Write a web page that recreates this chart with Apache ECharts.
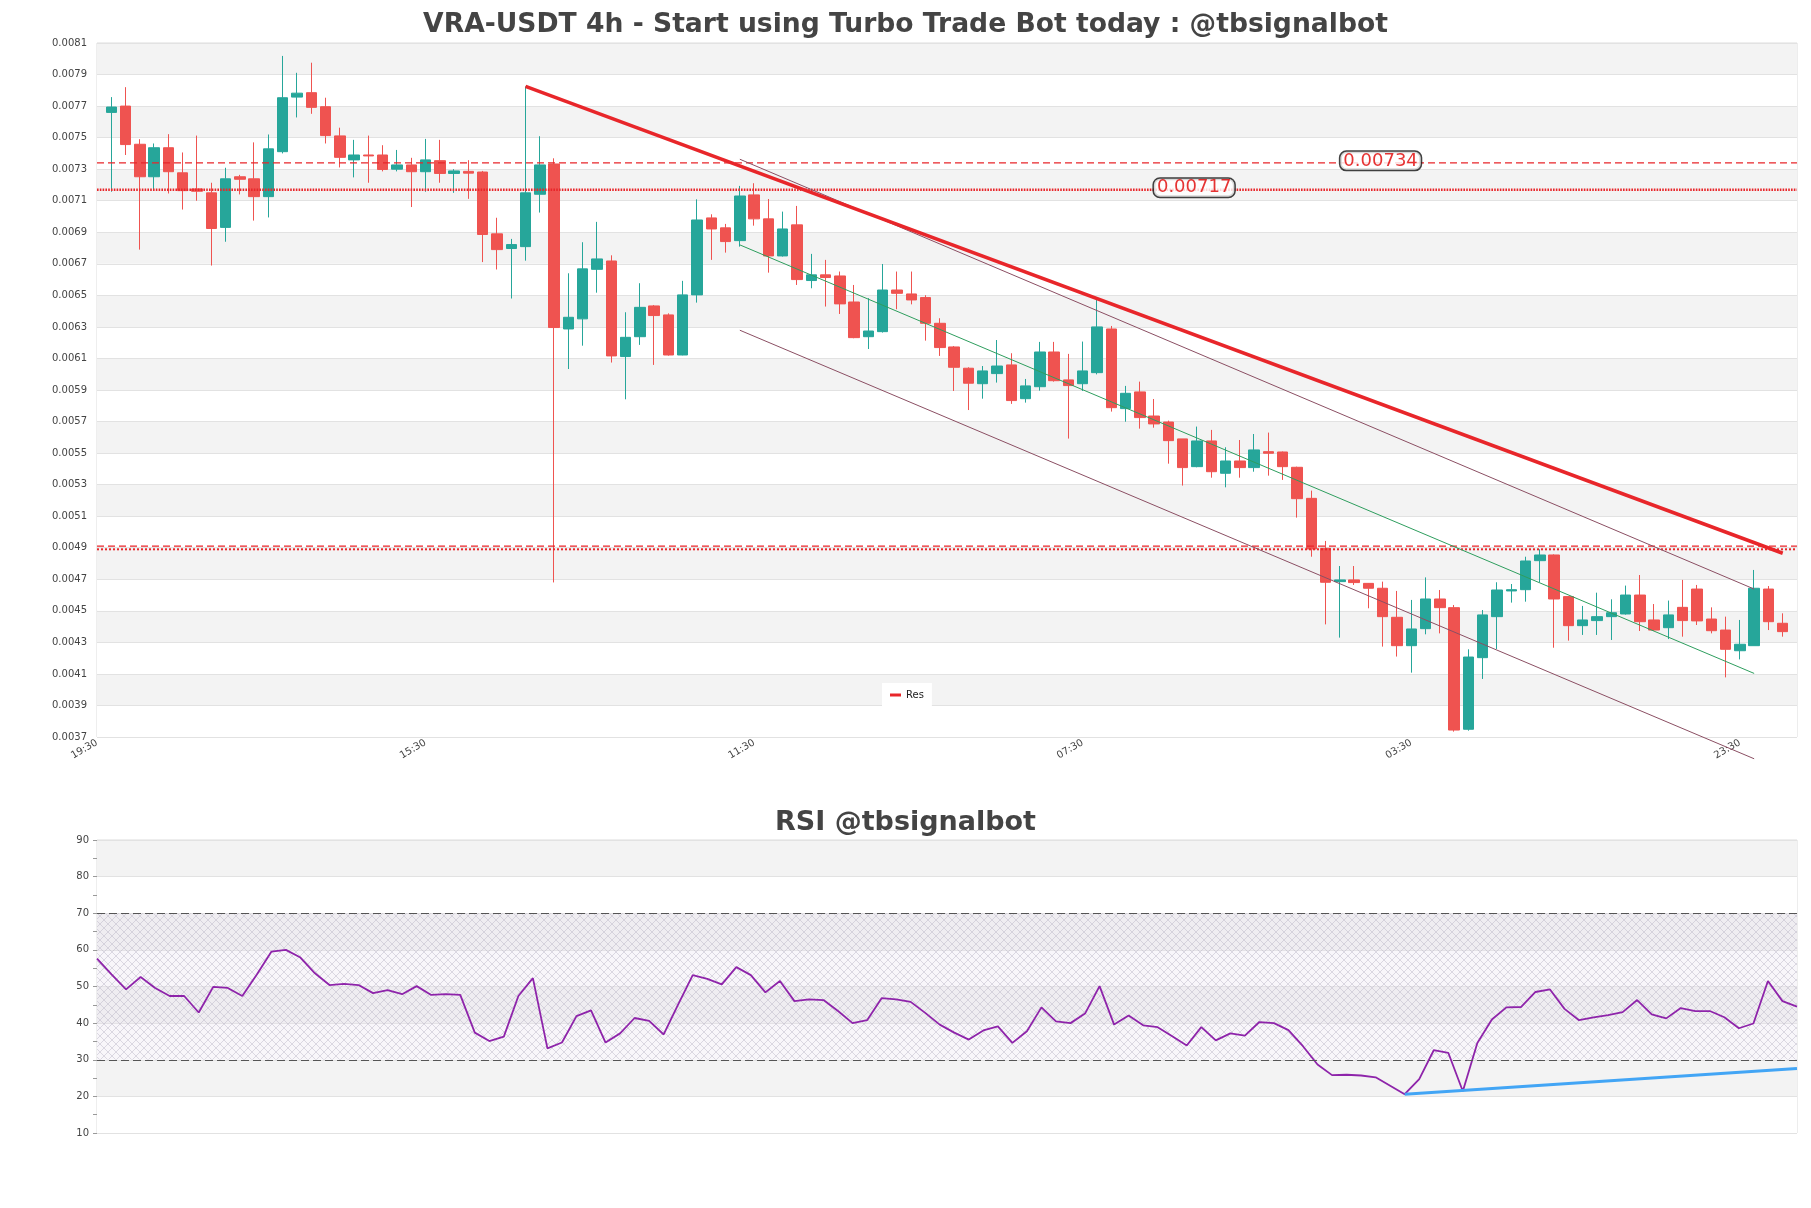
<!DOCTYPE html>
<html>
<head>
<meta charset="utf-8">
<script src="https://cdn.jsdelivr.net/npm/echarts@6/dist/echarts.min.js"></script>
<style>
html,body{margin:0;padding:0;background:#fff;}
#chart{width:1811px;height:1208px;}
</style>
</head>
<body>
<div id="chart"></div>
<script>
// ---- data ----
const tickLabels = ['19:30', '15:30', '11:30', '07:30', '03:30', '23:30'];

const opens = [
0.00766,0.0077,0.007458,0.007252,0.007436,0.007277,0.007175,0.00715,0.006931,0.007252,
0.007239,0.007126,0.007411,0.007757,0.007785,0.007696,0.007511,0.007359,0.00739,0.00739,
0.0073,0.007327,0.007284,0.007354,0.007273,0.007286,0.007282,0.00689,0.006797,0.006809,
0.007141,0.007333,0.006287,0.006351,0.006665,0.006718,0.006112,0.006238,0.006433,0.006376,
0.006122,0.006503,0.006991,0.006928,0.006847,0.007137,0.006985,0.00675,0.006947,0.006594,
0.00663,0.006623,0.006458,0.006238,0.00627,0.006534,0.006509,0.006486,0.006323,0.006173,
0.006038,0.00594,0.006004,0.006059,0.005845,0.005921,0.006141,0.005964,0.00594,0.00601,
0.006287,0.005782,0.005888,0.005735,0.005697,0.00559,0.005414,0.005577,0.005372,0.00545,
0.005408,0.005509,0.005507,0.00541,0.005213,0.004896,0.004685,0.004696,0.004674,0.004643,
0.004459,0.004279,0.004387,0.004575,0.00452,0.003749,0.004203,0.004463,0.004626,0.004634,
0.004818,0.004854,0.00459,0.004406,0.004438,0.004463,0.00448,0.0046,0.004442,0.004393,
0.004522,0.004638,0.004448,0.004378,0.004247,0.004279,0.004638,0.004421];
const closes = [
0.007694,0.007456,0.007252,0.007436,0.007284,0.007164,0.00716,0.006924,0.007239,0.007236,
0.007126,0.007429,0.007753,0.007782,0.007692,0.007513,0.007375,0.00739,0.007384,0.007298,
0.007327,0.007284,0.007359,0.007273,0.007289,0.007275,0.006886,0.00679,0.006822,0.00715,
0.007327,0.006296,0.006361,0.006668,0.006731,0.006116,0.006234,0.006424,0.006372,0.006122,
0.006503,0.006978,0.006921,0.006841,0.00713,0.006985,0.00675,0.006921,0.0066,0.00663,
0.006613,0.006446,0.006232,0.006274,0.006534,0.006513,0.006471,0.006323,0.006169,0.006044,
0.005943,0.006021,0.006052,0.005833,0.005926,0.006141,0.005959,0.005928,0.006021,0.0063,
0.005788,0.005879,0.005725,0.005685,0.005579,0.005408,0.005577,0.005382,0.00545,0.005408,
0.00552,0.005499,0.005414,0.005211,0.004892,0.004681,0.004696,0.004679,0.004643,0.004463,
0.004279,0.004385,0.004575,0.00452,0.003744,0.004207,0.004474,0.004632,0.004634,0.004816,
0.004854,0.004575,0.004406,0.004442,0.004463,0.004488,0.0046,0.004431,0.004378,0.004474,
0.004438,0.004436,0.004374,0.004256,0.004288,0.004643,0.004431,0.004368];
const highs = [
0.007757,0.00782,0.00749,0.007463,0.007522,0.007406,0.007513,0.007214,0.007309,0.007264,
0.00747,0.00752,0.008018,0.007911,0.007975,0.007753,0.007563,0.007486,0.007513,0.007452,
0.007422,0.007372,0.007492,0.007486,0.0073,0.007357,0.007289,0.006992,0.006858,0.007825,
0.007509,0.007369,0.00664,0.006837,0.006966,0.006754,0.006393,0.006577,0.006439,0.006386,
0.006592,0.007109,0.007014,0.006953,0.007194,0.007211,0.007111,0.007031,0.007067,0.006763,
0.006725,0.006651,0.006566,0.006482,0.006699,0.006651,0.006651,0.006501,0.006355,0.006179,
0.006044,0.006052,0.006217,0.006133,0.00597,0.006205,0.006205,0.006129,0.006207,0.006482,
0.006306,0.005926,0.005953,0.005843,0.005706,0.00559,0.005668,0.005647,0.005537,0.005583,
0.005621,0.00563,0.00551,0.005414,0.005262,0.004943,0.004784,0.004784,0.004676,0.004685,
0.004626,0.004569,0.004712,0.004632,0.004537,0.004256,0.004505,0.004681,0.00467,0.004843,
0.00489,0.004858,0.004594,0.004531,0.004615,0.004573,0.00466,0.004727,0.004543,0.004565,
0.004696,0.004664,0.004522,0.004463,0.004442,0.004759,0.004657,0.004484];
const lows = [
0.007157,0.00739,0.00679,0.007164,0.007146,0.007044,0.0071,0.006689,0.00684,0.00714,
0.006974,0.006994,0.0074,0.007628,0.007651,0.007463,0.007311,0.007248,0.007214,0.007286,
0.007286,0.00706,0.007157,0.007214,0.00715,0.007112,0.006711,0.006664,0.00648,0.00672,
0.007025,0.00468,0.006033,0.006181,0.006517,0.006074,0.005841,0.006186,0.006059,0.006118,
0.00612,0.006454,0.006725,0.006771,0.006809,0.006942,0.006644,0.006746,0.006566,0.006545,
0.006429,0.006382,0.006228,0.00616,0.006264,0.006412,0.006443,0.006213,0.006116,0.005894,
0.005773,0.005845,0.005947,0.005812,0.00582,0.005896,0.005953,0.005592,0.005894,0.005999,
0.005763,0.005699,0.005655,0.005661,0.005433,0.005294,0.00541,0.005344,0.005283,0.005344,
0.005382,0.005357,0.00533,0.005091,0.004843,0.004414,0.00433,0.004664,0.004516,0.004273,
0.00421,0.004108,0.004351,0.004357,0.003734,0.00374,0.004068,0.004258,0.004552,0.004558,
0.004681,0.004266,0.004311,0.004347,0.004347,0.004315,0.004476,0.004372,0.004372,0.004321,
0.004336,0.00441,0.004357,0.004078,0.004192,0.004279,0.004378,0.004336];

// trend / channel lines: [candle index, price] end points
const resLine   = [[29, 0.007825], [117, 0.004865]];
const chanUpper = [[44, 0.007363], [115, 0.004638]];
const chanMid   = [[44, 0.006820], [115, 0.004103]];
const chanLower = [[44, 0.006279], [115, 0.003562]];
// horizontal levels
const levelDashed = 0.00734;
const levelDotted = 0.00717;
const supportA = 0.00491;
const supportB = 0.00489;

const rsiValues = [
57.6,53.3,49.2,52.6,49.6,47.4,47.4,42.9,49.9,49.6,
47.4,53.3,59.5,60.0,57.9,53.6,50.4,50.7,50.4,48.2,
49.0,47.9,50.1,47.7,47.9,47.7,37.4,35.1,36.3,47.4,
52.3,33.1,34.7,41.9,43.5,34.7,37.2,41.4,40.6,36.9,
45.1,53.1,52.1,50.6,55.3,53.1,48.4,51.5,46.0,46.5,
46.3,43.3,40.0,40.8,46.8,46.5,45.8,42.8,39.6,37.4,
35.5,38.0,39.1,34.6,37.8,44.3,40.5,40.0,42.6,50.1,
39.6,42.1,39.4,38.9,36.4,33.9,38.9,35.3,37.2,36.6,
40.3,40.0,38.1,33.7,28.7,25.8,25.9,25.7,25.2,22.9,
20.6,24.7,32.6,31.9,21.4,34.6,41.0,44.3,44.4,48.5,
49.2,43.9,40.8,41.6,42.2,43.0,46.3,42.4,41.3,44.1,
43.3,43.3,41.6,38.6,39.9,51.5,46.0,44.5];
const rsiTrend = [[90, 20.6], [117, 27.6]];
const rsiUpper = 70, rsiLower = 30;

// ---- chart ----
const hatch = document.createElement('canvas');
hatch.width = 8; hatch.height = 8;
(function(){
  const g = hatch.getContext('2d');
  g.fillStyle = 'rgba(232,226,238,0.30)';
  g.fillRect(0, 0, 8, 8);
  g.strokeStyle = 'rgba(180,174,192,0.55)';
  g.lineWidth = 0.8;
  g.beginPath();
  g.moveTo(0, 0); g.lineTo(8, 8);
  g.moveTo(8, 0); g.lineTo(0, 8);
  g.stroke();
})();

const FONT = 'DejaVu Sans';
const X_MIN = -1, X_MAX = 118;
const candleData = opens.map((o, i) => [i, o, closes[i], lows[i], highs[i]]);
const RED = '#e8262a';

function hLine(name, value, width, dash) {
  return {type: 'line', name: name, xAxisIndex: 0, yAxisIndex: 0, silent: true, showSymbol: false, z: 5,
    data: [[X_MIN, value], [X_MAX, value]], lineStyle: {color: RED, width: width, type: dash}};
}

const chart = echarts.init(document.getElementById('chart'), null, {renderer: 'canvas'});
chart.setOption({
  animation: false,
  backgroundColor: '#ffffff',
  textStyle: {fontFamily: FONT},
  title: [
    {text: 'VRA-USDT 4h - Start using Turbo Trade Bot today : @tbsignalbot', left: 'center', top: 7,
     textStyle: {fontFamily: FONT, fontWeight: 'bold', fontSize: 26.6, color: '#444'}},
    {text: 'RSI @tbsignalbot', left: 'center', top: 804,
     textStyle: {fontFamily: FONT, fontWeight: 'bold', fontSize: 27, color: '#444'}}
  ],
  legend: {
    data: [{name: 'Res', icon: 'rect'}],
    left: 882, top: 683, itemWidth: 11, itemHeight: 3, itemGap: 6,
    backgroundColor: '#ffffff', padding: [7, 8], selectedMode: false,
    textStyle: {fontFamily: FONT, fontSize: 10, color: '#222'}
  },
  grid: [
    {left: 97, top: 43, width: 1700, height: 694, show: true, borderColor: '#dcdcdc', borderWidth: 1, backgroundColor: 'transparent'},
    {left: 97, top: 840, width: 1700, height: 293, show: true, borderColor: '#dcdcdc', borderWidth: 1, backgroundColor: 'transparent'}
  ],
  xAxis: [
    {type: 'value', gridIndex: 0, min: X_MIN, max: X_MAX, interval: 23,
     axisLine: {show: false}, axisTick: {show: false}, splitLine: {show: false},
     axisLabel: {rotate: 30, fontSize: 10, color: '#444', margin: 5, showMaxLabel: false,
       formatter: function (v) { const k = (v + 1) / 23; return Number.isInteger(k) && tickLabels[k] ? tickLabels[k] : ''; }}},
    {type: 'value', gridIndex: 1, min: 0, max: rsiValues.length - 1,
     axisLine: {show: false}, axisTick: {show: false}, axisLabel: {show: false}, splitLine: {show: false}}
  ],
  yAxis: [
    {type: 'value', gridIndex: 0, min: 0.0037, max: 0.0081, interval: 0.0002,
     axisLine: {show: false}, axisTick: {show: false},
     axisLabel: {fontSize: 10, color: '#444', margin: 10, formatter: v => v.toFixed(4)},
     splitLine: {show: true, lineStyle: {color: '#e2e2e2', width: 1}},
     splitArea: {show: true, areaStyle: {color: ['#ffffff', '#f3f3f3']}}},
    {type: 'value', gridIndex: 1, min: 10, max: 90, interval: 10,
     axisLine: {show: false},
     axisTick: {show: true, length: 4, lineStyle: {color: '#999'}},
     minorTick: {show: true, splitNumber: 2, length: 4, lineStyle: {color: '#999'}},
     axisLabel: {fontSize: 10, color: '#444', margin: 8},
     splitLine: {show: true, lineStyle: {color: '#e2e2e2', width: 1}},
     splitArea: {show: true, areaStyle: {color: ['#ffffff', '#f3f3f3']}}}
  ],
  series: [
    {
      type: 'candlestick', name: 'price', xAxisIndex: 0, yAxisIndex: 0, z: 3,
      data: candleData, encode: {x: 0, y: [1, 2, 3, 4]},
      barWidth: 11,
      itemStyle: {color: '#26a69a', color0: '#ef5350', borderColor: '#26a69a', borderColor0: '#ef5350', borderWidth: 1}
    },
    hLine('levelDashed', levelDashed, 1.4, [7, 4]),
    hLine('levelDotted', levelDotted, 2.4, [1.6, 1.2]),
    hLine('supportA', supportA, 1.4, [7, 4]),
    hLine('supportB', supportB, 2, [2, 2]),
    {type: 'line', name: 'chanUpper', xAxisIndex: 0, yAxisIndex: 0, data: chanUpper, showSymbol: false, clip: false, z: 5,
     lineStyle: {color: '#8b4f63', width: 1}, silent: true},
    {type: 'line', name: 'chanMid', xAxisIndex: 0, yAxisIndex: 0, data: chanMid, showSymbol: false, clip: false, z: 5,
     lineStyle: {color: '#2e9e5e', width: 1}, silent: true},
    {type: 'line', name: 'chanLower', xAxisIndex: 0, yAxisIndex: 0, data: chanLower, showSymbol: false, clip: false, z: 5,
     lineStyle: {color: '#8b4f63', width: 1}, silent: true},
    {type: 'line', name: 'Res', xAxisIndex: 0, yAxisIndex: 0, data: resLine, showSymbol: false, z: 5,
     color: RED, lineStyle: {color: RED, width: 3.5}, silent: true},
    {type: 'scatter', name: 'levels', xAxisIndex: 0, yAxisIndex: 0, symbolSize: 1, silent: true, z: 6,
     itemStyle: {color: 'rgba(0,0,0,0)'},
     data: [[88.85, levelDashed], [75.8, levelDotted]],
     label: {show: true, position: 'inside', offset: [0, -2], formatter: p => String(p.value[1]),
       color: '#e00000', fontFamily: FONT, fontSize: 18, backgroundColor: '#ffffff',
       borderColor: '#111', borderWidth: 1.5, borderRadius: 6, padding: [0, 3]}},
    {
      type: 'line', name: 'RSI', xAxisIndex: 1, yAxisIndex: 1,
      data: rsiValues.map((v, j) => [j, v]), showSymbol: false,
      lineStyle: {color: '#8e24aa', width: 1.8}, silent: true,
      markArea: {silent: true, itemStyle: {color: {image: hatch, repeat: 'repeat'}},
        data: [[{yAxis: rsiLower}, {yAxis: rsiUpper}]]},
      markLine: {silent: true, symbol: ['none', 'none'], label: {show: false},
        lineStyle: {color: '#555', width: 1.2, type: [8, 4]},
        data: [{yAxis: rsiUpper}, {yAxis: rsiLower}]}
    },
    {type: 'line', name: 'rsiTrend', xAxisIndex: 1, yAxisIndex: 1, data: rsiTrend, showSymbol: false,
     lineStyle: {color: '#42a5f5', width: 3}, silent: true}
  ]
});
</script>
</body>
</html>
